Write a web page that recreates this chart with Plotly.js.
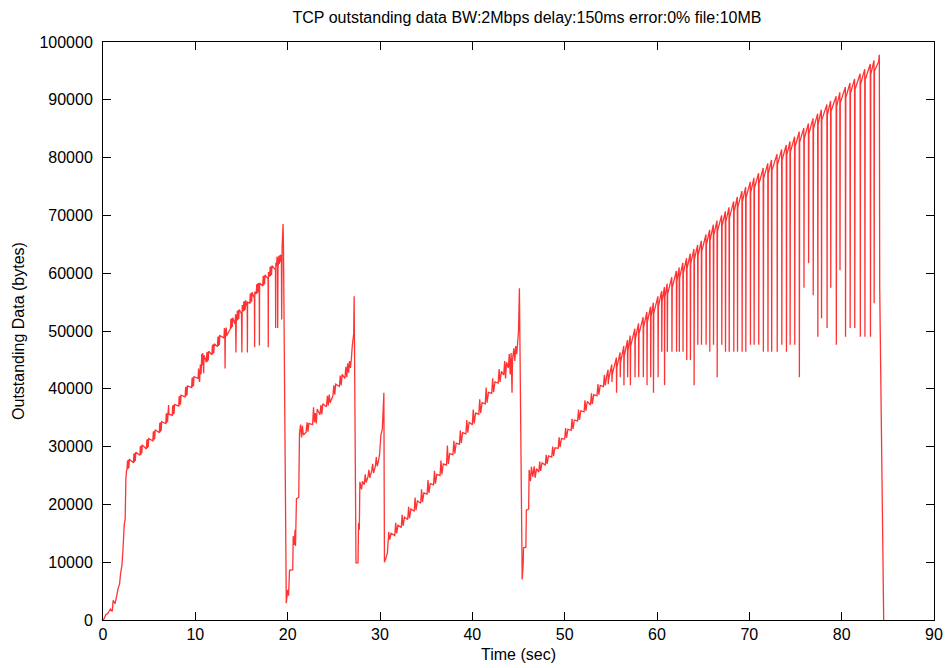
<!DOCTYPE html>
<html>
<head>
<meta charset="utf-8">
<script src="https://cdn.plot.ly/plotly-3.0.1.min.js"></script>
<style>html,body{margin:0;padding:0;background:#fff;}#chart{width:946px;height:668px;}</style>
</head>
<body>
<div id="chart"></div>
<script>
// [time (sec), outstanding bytes], segment by segment
const slowStart = [[0,0],[0.05,0],[0.3,900],[0.5,1100],[0.8,1900],[1.0,1500],[1.1,3400],[1.3,2800],[1.5,4300],[1.6,5200],[1.8,6300],[1.9,8000],[2.05,9500],[2.15,11800],[2.3,16500],[2.4,17400],[2.48,24500],[2.55,25800]];

const ramp1 = [[2.6,26000],[2.65,27600],[2.7,26100],[2.75,27700],[2.8,26300],[2.85,27800],
[3.3,27200],[3.35,28800],[3.4,27300],[3.45,28900],[3.5,27500],[3.55,29000],
[4.0,28500],[4.05,30100],[4.1,28600],[4.15,30200],[4.2,28800],[4.25,30300],
[4.7,29600],[4.75,31200],[4.8,29700],[4.85,31300],[4.9,29900],[4.95,31400],
[5.4,31000],[5.45,32600],[5.5,31100],[5.55,32700],[5.6,31300],[5.65,32900],
[6.1,32400],[6.15,34100],[6.2,32500],[6.25,34200],[6.3,32700],[6.35,34300],
[6.8,34000],[6.85,35700],[6.9,34100],[6.95,35800],[7.0,34300],[7.05,35900],[7.1,37200],[7.14,35600],
[7.5,35400],[7.55,37100],[7.6,35500],[7.65,37200],[7.7,35700],[7.75,37300],
[8.2,37000],[8.25,38700],[8.3,37100],[8.35,38800],[8.4,37300],[8.45,38900],
[8.9,38600],[8.95,40300],[9.0,38700],[9.05,40400],[9.1,38900],[9.15,40500],
[9.6,40200],[9.65,41900],[9.7,40300],[9.75,42000],[9.8,40500],[9.85,42100],
[10.3,41800],[10.35,43500],[10.4,41900],[10.46,41200],[10.54,44200],[10.62,42500],[10.7,46000],[10.75,44100],[10.8,46200],[10.86,44300],[10.9,42700],[10.94,45800],
[11.2,44600],[11.25,46300],[11.3,44700],[11.35,46400],[11.4,44900],[11.45,46500],
[11.8,45900],[11.85,47600],[11.9,46000],[11.95,47700],[12.0,46200],[12.05,47800],
[12.4,47300],[12.45,49000],[12.5,47400],[12.55,49100],[12.6,47600],[12.65,49200],
[13.1,48800],[13.15,50500],[13.2,48900],[13.22,43500],[13.26,50300],[13.3,49000],[13.35,50600],[13.4,49200],
[13.8,50400],[13.85,52100],[13.9,50500],[13.95,52200],[14.0,50700],[14.05,52300],
[14.3,51200],[14.36,52900],[14.4,46300],[14.44,52800],[14.5,51800],[14.55,53500],[14.6,51900],[14.65,53600],[14.7,52100],[14.75,53700],
[15.0,53000],[15.04,46300],[15.08,54500],[15.2,53400],[15.25,55100],[15.3,53500],[15.35,55200],[15.4,53700],[15.45,55300],
[15.62,54200],[15.64,46300],[15.66,55000],
[15.9,54800],[15.95,56500],[16.0,54900],[16.05,56600],[16.1,55100],[16.15,56700],
[16.4,55600],[16.42,47200],[16.44,56800],
[16.6,56400],[16.65,58100],[16.7,56500],[16.75,58200],[16.8,56700],[16.85,58300],
[16.92,57400],[16.94,47500],[16.96,58300],
[17.3,57800],[17.35,59500],[17.4,57900],[17.45,59600],[17.5,58100],[17.55,59700],
[17.88,59000],[17.9,47200],[17.92,60200],
[18.05,59400],[18.1,61100],[18.15,59500],[18.2,61200],[18.25,59700],[18.3,61300],
[18.68,60600],[18.7,50500],[18.72,61800],
[18.8,61200],[18.85,62900],[18.9,61300],[18.92,50500],[18.96,62700],[19.0,61400],[19.05,63000],[19.1,61600],[19.15,63100],[19.2,62000],[19.25,63200],
[19.32,62600],[19.35,52000],[19.4,64500],[19.45,66500],[19.5,68500],[19.55,64000]];

const recovery1 = [[19.85,2900],[20.0,5200],[20.1,4200],[20.2,8600],[20.55,8700],[20.6,14500],[20.7,13000],[20.8,15600],[20.85,12800],[20.95,21000],[21.2,21200],[21.28,32300]];

const ramp2 = [[21.4,33800],[21.5,31600],[21.6,33600],[21.7,32000],
[22.0,32500],[22.1,34200],[22.2,32600],[22.3,34000],
[22.7,33800],[22.8,36800],[22.9,34200],[23.0,35800],[23.1,34000],[23.2,36500],
[23.5,35500],[23.6,37200],[23.7,35600],[23.8,37400],
[24.2,36900],[24.3,38800],[24.4,37100],[24.5,39000],[24.6,37600],
[24.9,38800],[25.0,40600],[25.1,39000],[25.2,40800],
[25.6,40400],[25.7,42300],[25.8,40600],[25.9,42500],
[26.2,41800],[26.3,43800],[26.4,42000],[26.5,44400],[26.6,42800],[26.7,44800],[26.8,43600],
[26.9,45200],[27.0,47500],[27.1,48800],[27.15,49500],[27.2,56000]];

const ramp3 = [[27.4,9900],[27.62,9900],[27.68,16800],[27.76,15600],[27.82,23900],[28.0,22600],[28.1,24000],[28.3,23400],[28.4,25200],[28.5,23800],[28.7,24800],[28.8,26000],[28.9,24600],[29.1,25800],[29.2,27000],[29.3,25400],[29.5,26600],[29.6,28200],[29.7,26600],[29.85,27600],[29.95,28600],[30.1,32000],[30.25,33000],[30.42,39300]];

const ramp4 = [[30.48,10000],[30.7,11000],[30.8,11600],[30.95,15200],[31.05,13900],[31.2,15000],
[31.6,14600],[31.7,16800],[31.8,15000],[31.95,16400],
[32.3,16000],[32.4,18200],[32.5,16300],[32.65,17800],
[33.0,17400],[33.1,19600],[33.2,17600],[33.35,19200],
[33.7,18800],[33.8,21200],[33.9,19000],[34.05,20600],
[34.4,20200],[34.5,22600],[34.6,20400],[34.75,22000],
[35.1,21800],[35.2,24200],[35.3,22000],[35.45,23600],
[35.8,23400],[35.9,25800],[36.0,23600],[36.15,25200],
[36.5,25000],[36.6,27600],[36.7,25200],[36.85,27000],
[37.2,26800],[37.3,30200],[37.4,27000],[37.55,28800],
[37.9,28600],[38.0,31000],[38.1,28800],[38.25,30600],
[38.6,30400],[38.7,32800],[38.8,30600],[38.95,32400],
[39.3,32200],[39.4,34600],[39.5,32400],[39.65,34200],
[40.0,33800],[40.1,36400],[40.2,34000],[40.35,35800],
[40.7,35600],[40.8,38200],[40.9,35800],[41.05,37600],
[41.4,37400],[41.5,40200],[41.6,37600],[41.75,39400],
[42.1,39200],[42.2,41800],[42.3,39400],[42.45,41200],
[42.8,41000],[42.9,43400],[43.0,41200],[43.15,43000],
[43.4,42400],[43.5,44800],[43.6,41800],[43.7,44600],
[43.9,43600],[44.0,46000],[44.1,42500],[44.2,46200],[44.3,39300],[44.35,45000],[44.5,47000],[44.6,44800],[44.7,47400],[44.8,46000],[44.9,47800],[45.0,50000],[45.1,57400]];

const ramp5 = [[45.4,7000],[45.5,9500],[45.55,12500],[45.8,12600],[45.85,19000],[46.1,19200],[46.15,26000],[46.3,24000],[46.4,26500],[46.55,24800],[46.7,26600],[46.8,24600],[46.95,26200],
[47.2,25600],[47.3,27400],[47.4,25800],[47.55,27200],
[47.9,26800],[48.0,28600],[48.1,27000],[48.25,28400],
[48.6,28200],[48.7,30000],[48.8,28400],[48.95,29800],
[49.3,29700],[49.4,31600],[49.5,29900],[49.65,31400],
[50.0,31300],[50.1,33200],[50.2,31500],[50.35,33000],
[50.7,32800],[50.8,34800],[50.9,33000],[51.05,34600],
[51.4,34400],[51.5,36400],[51.6,34600],[51.75,36200],
[52.1,36000],[52.2,38000],[52.3,36200],[52.45,37800],
[52.8,37200],[52.9,39200],[53.0,37400],[53.15,39000],
[53.5,38800],[53.6,40800],[53.7,39000],[53.85,40600],
[54.2,40400],[54.3,42400],[54.4,40600],[54.55,42200]];

const ramp5Spikes = [[54.7,43300],[54.72,40800],[54.75,41500],
[55.1,44200],[55.12,41200],[55.15,42400],
[55.6,45400],[55.62,39300],[55.65,43600],
[56.0,46300],[56.02,42000],[56.05,44500],
[56.4,47400],[56.42,40600],[56.45,45600],
[56.8,48400],[56.82,42000],[56.85,46600],
[57.1,49200],[57.12,40600],[57.15,47400],
[57.6,50400],[57.62,42000],[57.65,48600],
[58.0,51300],[58.02,42000],[58.05,49500],
[58.5,52400],[58.52,42000],[58.55,50600],
[58.9,53300],[58.92,40600],[58.95,51500],
[59.3,54200],[59.32,42000],[59.35,52400],
[59.6,54900],[59.62,39300],[59.65,53100],
[60.1,56000],[60.12,42000],[60.15,54200],
[60.5,56900],[60.52,46400],[60.55,55100],
[60.8,57600],[60.82,40600],[60.85,55800],
[61.1,58200],[61.12,46400],[61.15,56400],
[61.6,59300],[61.62,46400],[61.65,57500],
[62.1,60400],[62.12,46400],[62.15,58600],
[62.4,61000],[62.42,46400],[62.45,59200],
[62.8,61800],[62.82,46400],[62.85,60000],
[63.2,62600],[63.22,45000],[63.25,60800],
[63.6,63400],[63.62,45000],[63.65,61600],
[64.0,64200],[64.02,40600],[64.05,62400],
[64.4,64900],[64.42,47600],[64.45,63100],
[64.8,65600],[64.82,47600],[64.85,63800],
[65.3,66700],[65.32,47600],[65.35,64900],
[65.7,67500],[65.72,46400],[65.75,65700],
[66.1,68400],[66.12,47600],[66.15,66600],
[66.5,69100],[66.52,42000],[66.55,67300],
[67.0,70000],[67.02,47600],[67.05,68200],
[67.4,70700],[67.42,46400],[67.45,68900],
[67.8,71400],[67.82,46400],[67.85,69600],
[68.3,72400],[68.32,46400],[68.35,70600],
[68.7,73200],[68.72,46400],[68.75,71400],
[69.2,74200],[69.22,46400],[69.25,72400],
[69.6,74900],[69.62,46400],[69.65,73100],
[70.1,75800],[70.12,47600],[70.15,74000],
[70.5,76500],[70.52,47600],[70.55,74700],
[71.0,77300],[71.02,47600],[71.05,75500],
[71.5,78200],[71.52,46400],[71.55,76400],
[72.0,79000],[72.02,46400],[72.05,77200],
[72.4,79600],[72.42,46400],[72.45,77800],
[73.0,80600],[73.02,46400],[73.05,78800],
[73.5,81400],[73.52,47600],[73.55,79600],
[74.0,82200],[74.02,46400],[74.05,80400],
[74.4,82800],[74.42,47600],[74.45,81000],
[74.9,83600],[74.92,47600],[74.95,81800],
[75.4,84500],[75.42,42000],[75.45,82700],
[75.9,85100],[75.92,57500],[75.95,83300],
[76.4,85900],[76.42,61700],[76.45,84100],
[76.9,86800],[76.92,56200],[76.95,85000],
[77.4,87600],[77.42,49000],[77.45,85800],
[77.8,88300],[77.82,52200],[77.85,86500],
[78.4,89200],[78.42,50500],[78.45,87400],
[78.8,89800],[78.82,57500],[78.85,88000],
[79.4,90600],[79.42,47600],[79.45,88800],
[79.8,91300],[79.82,60500],[79.85,89500],
[80.4,92200],[80.42,49000],[80.45,90400],
[80.9,92900],[80.92,50500],[80.95,91100],
[81.4,93600],[81.42,50500],[81.45,91800],
[82.0,94500],[82.02,49000],[82.05,92700],
[82.5,95300],[82.52,49000],[82.55,93500],
[83.1,96200],[83.12,49000],[83.15,94400],
[83.5,96800],[83.52,54800],[83.55,95000],
[84.0,96600],[84.08,97800],[84.12,57500],[84.55,0]];

const xTickVals = [0,10,20,30,40,50,60,70,80,90];
const yTickVals = [0,10000,20000,30000,40000,50000,60000,70000,80000,90000,100000];

const allPoints = [].concat(slowStart, ramp1, recovery1, ramp2, ramp3, ramp4, ramp5, ramp5Spikes);
const timeSec = allPoints.map(p => p[0]);
const bytes = allPoints.map(p => p[1]);

const FONT = 'Liberation Sans, Arial, Helvetica, sans-serif';

const trace = {
  x: timeSec, y: bytes, type: 'scatter', mode: 'lines',
  line: {color: 'rgba(255,0,0,0.8)', width: 1.3, simplify: false},
  hoverinfo: 'skip', showlegend: false
};

const axisCommon = {
  showgrid: false, zeroline: false, showline: true, mirror: 'ticks',
  linecolor: '#000', linewidth: 1, ticks: 'inside', ticklen: 8, tickwidth: 1, tickcolor: '#000',
  tickfont: {family: FONT, size: 16, color: '#000'}
};

const layout = {
  width: 946, height: 668,
  margin: {l: 103, r: 12, t: 42, b: 48, pad: 0},
  paper_bgcolor: '#fff', plot_bgcolor: '#fff',
  title: {text: 'TCP outstanding data BW:2Mbps delay:150ms error:0% file:10MB',
    font: {family: FONT, size: 16, color: '#000'},
    x: 527/946, xref: 'container', xanchor: 'center', y: 1 - 17/668, yref: 'container', yanchor: 'middle'},
  xaxis: Object.assign({}, axisCommon, {
    range: [0, 90], tickvals: xTickVals, ticktext: xTickVals.map(String),
    title: {text: 'Time (sec)', font: {family: FONT, size: 16, color: '#000'}, standoff: 6}
  }),
  yaxis: Object.assign({}, axisCommon, {
    range: [0, 100000], tickvals: yTickVals, ticktext: yTickVals.map(String),
    ticklabelstandoff: 6,
    title: {text: 'Outstanding Data (bytes)', font: {family: FONT, size: 16, color: '#000'}, standoff: 10}
  })
};

Plotly.newPlot('chart', [trace], layout, {displayModeBar: false, staticPlot: true});
</script>
</body>
</html>
